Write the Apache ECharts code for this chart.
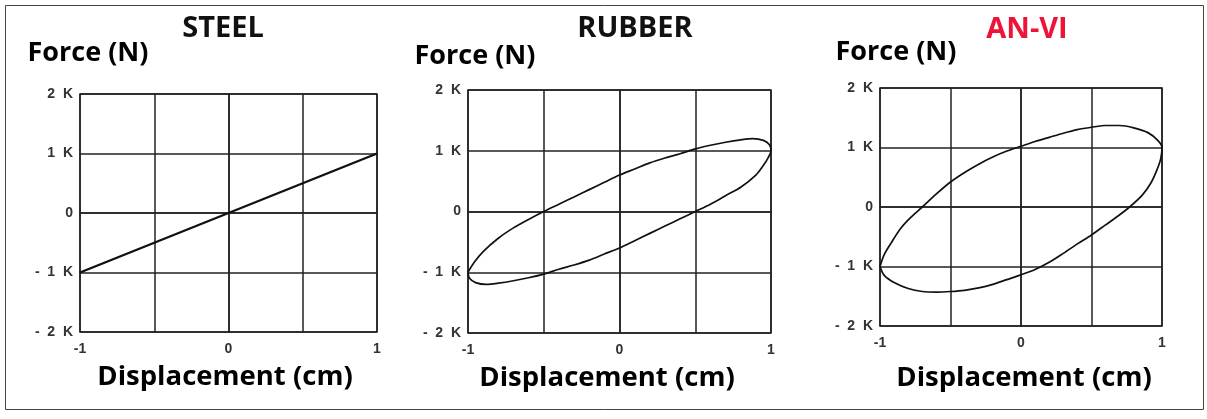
<!DOCTYPE html>
<html>
<head>
<meta charset="utf-8">
<script src="https://cdn.jsdelivr.net/npm/echarts@6/dist/echarts.min.js"></script>
<style>
html,body{margin:0;padding:0;background:#fff;}
#c{width:1207px;height:419px;}
</style>
</head>
<body>
<div id="c"></div>
<script>
// Panel titles
const panelTitles = ['STEEL', 'RUBBER', 'AN-VI'];
const yAxisTitle = 'Force (N)';
const xAxisTitle = 'Displacement (cm)';
// Tick values and labels
const xTickLabels = {'-1': '-1', '0': '0', '1': '1'};
const yTickLabels = {'-2000': '-  2  K', '-1000': '-  1  K', '0': '0', '1000': '1  K', '2000': '2  K'};

// STEEL: displacement (cm), force (N)
const steelX = [-1, 0, 1];
const steelY = [-1000, 0, 1000];

// RUBBER loop (upper branch left->right, lower branch right->left)
const rubberX = [-1, -0.96, -0.9, -0.8, -0.7, -0.6, -0.5, -0.4, -0.3, -0.2, -0.1, 0, 0.1, 0.2, 0.3, 0.4, 0.5, 0.6, 0.7, 0.8, 0.88, 0.95, 0.99, 1.0,
                 0.98, 0.95, 0.9, 0.8, 0.7, 0.6, 0.5, 0.4, 0.3, 0.2, 0.1, 0, -0.1, -0.2, -0.3, -0.4, -0.5, -0.6, -0.7, -0.8, -0.88, -0.95, -0.99, -1.0];
const rubberY = [-1000, -840, -660, -440, -270, -130, 0, 120, 240, 360, 480, 600, 700, 800, 880, 950, 1030, 1090, 1140, 1180, 1200, 1170, 1100, 1000,
                 880, 760, 600, 400, 260, 120, 0, -120, -240, -360, -480, -600, -700, -800, -880, -950, -1030, -1090, -1140, -1180, -1200, -1170, -1100, -1000];

// AN-VI loop
const anviX = [-1, -0.97, -0.92, -0.85, -0.78, -0.7, -0.6, -0.5, -0.4, -0.3, -0.2, -0.1, 0, 0.1, 0.2, 0.3, 0.4, 0.5, 0.6, 0.7, 0.8, 0.9, 0.97, 1.0,
               0.99, 0.96, 0.92, 0.86, 0.77, 0.7, 0.6, 0.5, 0.4, 0.3, 0.2, 0.1, 0, -0.1, -0.2, -0.3, -0.4, -0.5, -0.6, -0.7, -0.8, -0.9, -0.97, -1.0];
const anviY = [-1000, -800, -600, -350, -170, 0, 220, 420, 580, 720, 840, 940, 1020, 1100, 1170, 1240, 1300, 1340, 1370, 1370, 1330, 1250, 1120, 1000,
               800, 600, 400, 200, 0, -130, -300, -470, -620, -780, -930, -1050, -1140, -1220, -1300, -1360, -1400, -1420, -1430, -1420, -1370, -1270, -1150, -1000];

function pairs(xs, ys) { return xs.map((x, i) => [x, ys[i]]); }

const grids = [
  {left: 80, top: 94, width: 297, height: 238},
  {left: 468, top: 90, width: 303, height: 243},
  {left: 880, top: 88, width: 282, height: 238}
];
const titlePos = [[223, 29], [635, 29], [1027, 30]];
const forcePos = [[88, 53], [475, 56], [896, 52]];
const dispPos = [[225, 377], [607, 378], [1024, 378]];
const titleColors = ['#111', '#111', '#ec1437'];

const gridLine = {color: '#222', width: 1.5};
const tickFont = {color: '#333', fontSize: 14, fontWeight: 'bold', fontFamily: 'Liberation Sans, Arial, sans-serif'};

const xAxes = [], yAxes = [], series = [], graphics = [];
grids.forEach((g, i) => {
  xAxes.push({
    type: 'value', gridIndex: i, min: -1, max: 1, interval: 0.5,
    axisLine: {show: true, lineStyle: gridLine}, axisTick: {show: false},
    splitLine: {show: true, lineStyle: gridLine},
    axisLabel: Object.assign({margin: 10, formatter: v => xTickLabels[String(v)] || ''}, tickFont)
  });
  yAxes.push({
    type: 'value', gridIndex: i, min: -2000, max: 2000, interval: 1000,
    axisLine: {show: true, lineStyle: gridLine}, axisTick: {show: false},
    splitLine: {show: true, lineStyle: gridLine},
    axisLabel: Object.assign({margin: 7, formatter: v => yTickLabels[String(v)] || ''}, tickFont)
  });
  graphics.push({type: 'text', x: titlePos[i][0], y: titlePos[i][1], style: {text: panelTitles[i], font: 'bold 29px "Open Sans", "Noto Sans", sans-serif', fill: titleColors[i], textAlign: 'center', textVerticalAlign: 'middle'}});
  graphics.push({type: 'text', x: forcePos[i][0], y: forcePos[i][1], style: {text: yAxisTitle, font: 'bold 27px "Open Sans", "Noto Sans", sans-serif', fill: '#000', textAlign: 'center', textVerticalAlign: 'middle'}});
  graphics.push({type: 'text', x: dispPos[i][0], y: dispPos[i][1], style: {text: xAxisTitle, font: 'bold 27.5px "Open Sans", "Noto Sans", sans-serif', fill: '#000', textAlign: 'center', textVerticalAlign: 'middle'}});
});
graphics.push({type: 'rect', shape: {x: 5.5, y: 5.5, width: 1198, height: 404}, style: {fill: 'none', stroke: '#444', lineWidth: 1}, z: 100});

series.push({type: 'line', xAxisIndex: 0, yAxisIndex: 0, data: pairs(steelX, steelY), showSymbol: false, lineStyle: {color: '#111', width: 2.4}});
series.push({type: 'line', xAxisIndex: 1, yAxisIndex: 1, data: pairs(rubberX, rubberY), showSymbol: false, smooth: 0.3, lineStyle: {color: '#111', width: 1.7}});
series.push({type: 'line', xAxisIndex: 2, yAxisIndex: 2, data: pairs(anviX, anviY), showSymbol: false, smooth: 0.3, lineStyle: {color: '#111', width: 1.7}});

const chart = echarts.init(document.getElementById('c'), null, {renderer: 'canvas'});
chart.setOption({
  animation: false,
  backgroundColor: '#fff',
  grid: grids.map(g => Object.assign({show: true, borderColor: '#222', borderWidth: 1.5}, g)),
  xAxis: xAxes,
  yAxis: yAxes,
  series: series,
  graphic: graphics
});
</script>
</body>
</html>
